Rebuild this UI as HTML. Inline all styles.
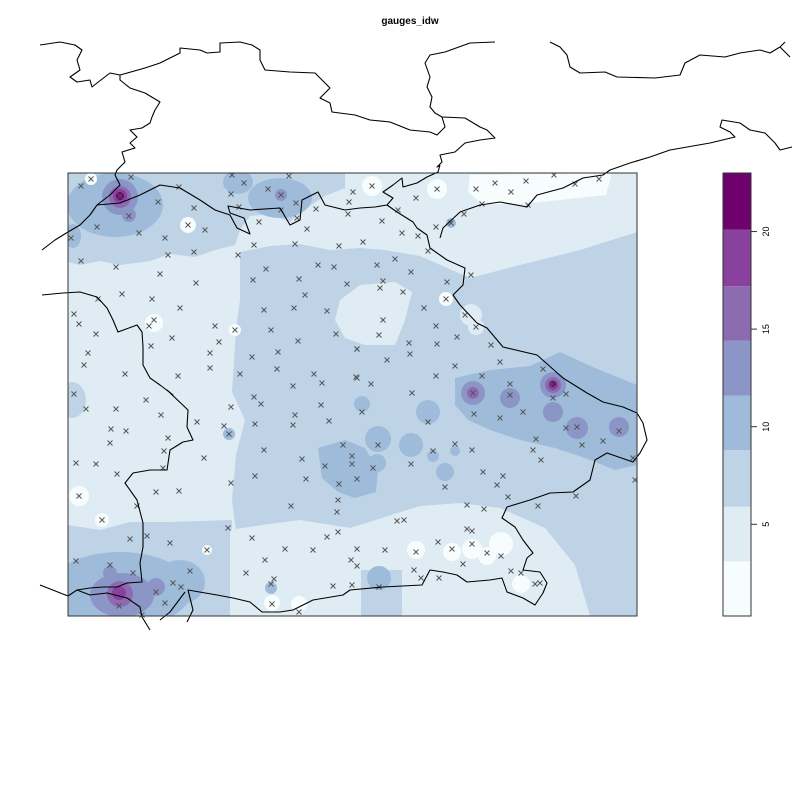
<!DOCTYPE html>
<html><head><meta charset="utf-8"><style>
html,body{margin:0;padding:0;background:#fff;}
svg{display:block;font-family:"Liberation Sans",sans-serif;}
</style></head><body>
<svg id="chart" width="800" height="800" viewBox="0 0 800 800">
<text x="410" y="24" text-anchor="middle" font-size="10" font-weight="bold">gauges_idw</text>
<defs><clipPath id="pc"><rect x="68" y="173" width="569" height="443"/></clipPath></defs>
<g clip-path="url(#pc)">
<rect x="68" y="173" width="569" height="443" fill="#e0ecf4"/>
<!-- medium band regions -->
<path fill="#bfd3e6" d="M68,173 L345,173 L345,188 L325,196 L300,212 L290,222 L270,214 L250,216 L240,230 L235,245 L215,250 L195,257 L170,254 L150,261 L120,265 L100,261 L80,265 L68,262 Z"/>
<path fill="#bfd3e6" d="M240,252 L270,246 L300,244 L330,250 L360,248 L385,250 L420,256 L470,278 L520,265 L580,250 L637,232 L637,616 L590,616 L575,565 L545,528 L500,508 L460,503 L420,506 L385,517 L350,528 L300,520 L262,525 L236,532 L232,500 L236,455 L245,420 L232,392 L236,330 L240,300 Z"/>
<path fill="#e0ecf4" d="M340,300 L360,285 L395,282 L412,292 L405,320 L395,345 L365,345 L345,338 L335,320 Z"/>
<path fill="#bfd3e6" d="M68,525 L100,530 L130,522 L170,522 L232,520 L232,616 L68,616 Z"/>
<path fill="#e0ecf4" d="M230,530 L262,525 L300,522 L350,530 L385,518 L420,508 L460,505 L500,510 L540,530 L570,565 L585,616 L230,616 Z"/>
<rect x="361" y="570" width="41" height="46" fill="#bfd3e6"/>
<ellipse cx="72" cy="400" rx="14" ry="18" fill="#bfd3e6"/>
<!-- darker blobs -->
<ellipse cx="115" cy="205" rx="48" ry="32" fill="#9ebcda"/>
<ellipse cx="280" cy="198" rx="32" ry="20" fill="#9ebcda"/>
<ellipse cx="238" cy="182" rx="15" ry="12" fill="#9ebcda"/>
<ellipse cx="73" cy="236" rx="8" ry="12" fill="#9ebcda"/>
<path fill="#9ebcda" d="M455,378 L490,370 L530,366 L560,352 L595,368 L637,385 L637,465 L615,470 L585,458 L555,448 L520,440 L490,430 L468,420 L455,405 Z"/>
<path fill="#9ebcda" d="M318,448 L345,440 L365,448 L378,470 L376,492 L355,498 L338,492 L322,478 Z"/>
<ellipse cx="120" cy="590" rx="72" ry="38" fill="#9ebcda"/>
<ellipse cx="180" cy="582" rx="25" ry="22" fill="#9ebcda"/>
<g fill="#9ebcda">
<circle cx="362" cy="404" r="8"/><circle cx="428" cy="412" r="12"/><circle cx="378" cy="439" r="13"/><circle cx="411" cy="445" r="12"/><circle cx="377" cy="463" r="9"/><circle cx="433" cy="456" r="6"/><circle cx="455" cy="451" r="5"/><circle cx="445" cy="472" r="9"/><circle cx="379" cy="578" r="12"/><circle cx="229" cy="434" r="6"/><circle cx="271" cy="588" r="6"/><circle cx="451" cy="223" r="5"/>
</g>
<g fill="#8c96c6">
<circle cx="473" cy="393" r="12"/><circle cx="510" cy="398" r="10"/><circle cx="553" cy="385" r="13"/><circle cx="553" cy="412" r="10"/><circle cx="577" cy="428" r="11"/><circle cx="619" cy="427" r="10"/><circle cx="120" cy="197" r="18"/><circle cx="129" cy="215" r="7"/><circle cx="281" cy="195" r="6"/><ellipse cx="122" cy="595" rx="32" ry="22"/><circle cx="156" cy="587" r="9"/><circle cx="110" cy="573" r="7"/>
</g>
<g fill="#8c6bb1"><circle cx="473" cy="393" r="6"/><circle cx="553" cy="385" r="8"/><circle cx="120" cy="197" r="11"/><circle cx="120" cy="594" r="13"/></g>
<g fill="#88419d"><circle cx="553" cy="385" r="5"/><circle cx="120" cy="196" r="7"/><circle cx="119" cy="593" r="7"/></g>
<g fill="#6e016b"><circle cx="553" cy="384" r="3"/><circle cx="120" cy="196" r="4"/></g>
<!-- light/white patches -->
<path fill="#f7fcfd" d="M470,175 L612,173 L606,195 L560,200 L520,204 L482,204 L468,192 Z"/>
<g fill="#f7fcfd">
<circle cx="79" cy="496" r="10"/><circle cx="102" cy="520" r="7"/><circle cx="207" cy="550" r="5"/><circle cx="272" cy="603" r="8"/><circle cx="299" cy="604" r="8"/><circle cx="154" cy="323" r="9"/><circle cx="235" cy="330" r="6"/><circle cx="416" cy="550" r="9"/><circle cx="452" cy="552" r="9"/><circle cx="472" cy="549" r="10"/><circle cx="501" cy="544" r="12"/><circle cx="487" cy="556" r="9"/><circle cx="521" cy="584" r="9"/><circle cx="437" cy="189" r="10"/><circle cx="372" cy="186" r="10"/><circle cx="446" cy="299" r="7"/><circle cx="188" cy="225" r="8"/><circle cx="91" cy="179" r="6"/>
</g>
<g fill="#e0ecf4"><circle cx="471" cy="315" r="11"/><circle cx="476" cy="327" r="8"/><circle cx="397" cy="520" r="7"/></g>
</g>
<g id="gauges"></g>
<path id="borders" fill="none" stroke="#000" stroke-width="1.1" stroke-linejoin="round" d="
M40,45 L60,42 L75,45 L82,50 L77,60 L80,70 L70,77 L77,82 L90,80 L92,87 L97,83 L110,73 L120,75 L145,68 L160,63 L180,53 L180,48 L200,50 L207,53 L220,52 L220,43 L240,42 L252,45 L260,50 L260,60 L265,70 L290,72 L315,73 L325,83 L330,88 L320,98 L330,103 L332,112 L355,115 L370,120 L390,122 L410,130 L430,132 L437,135 L445,127 L442,117
M120,75 L120,80 L130,88 L145,93 L160,102 L155,110 L152,117 L150,123 L142,128 L130,130 L137,137 L130,143 L135,148 L122,152 L125,162 L117,170 L115,175 L120,185 L110,195 L97,205 L90,215 L80,225 L68,232 L55,240 L42,250
M97,205 L120,203 L140,195 L160,185 L180,188 L200,200 L215,210 L230,215 L237,228 L250,234 L244,218 L230,213 L228,206 L250,210 L280,208 L290,225 L300,220 L302,200 L318,192 L325,205 L345,210 L360,208 L375,207 L387,205 L397,212 L413,222 L417,228 L427,235 L430,248 L447,260 L465,268 L463,285 L453,295 L460,305 L477,323 L487,328 L503,347 L537,355 L563,378 L587,393 L603,402 L623,407 L637,413 L643,423 L647,440 L640,453 L633,462 L607,453 L595,460 L590,480 L573,492 L550,493 L530,500 L507,507 L502,518 L515,527 L523,540 L533,553 L527,558 L523,570 L540,572 L547,583 L543,593 L535,605 L523,598 L507,592 L502,578 L490,580 L467,582 L457,575 L443,572 L430,570 L422,585 L383,587 L350,590 L343,595 L313,600 L293,610 L280,612 L262,612 L250,602 L233,598 L217,595 L188,590 L193,610 L187,622
M42,295 L63,293 L80,292 L97,297 L107,308 L113,320 L118,332 L137,325 L142,332 L143,347 L143,365 L150,378 L160,385 L173,395 L167,390 L188,410 L187,427 L193,440 L183,442 L170,450 L167,470 L150,470 L133,473 L125,483 L137,500 L143,523 L143,547 L140,563 L142,582 L127,583 L117,587 L103,587 L90,588 L77,590 L90,595 L107,593 L127,598 L140,607 L142,617 L150,630 M160,620 L170,612 L185,592
M40,585 L68,596 L77,590
M440,165 L438,172 L427,177 L417,183 L403,187 L402,178 L393,185 L383,192 L393,198 L387,205
M442,117 L465,118 L480,127 L487,130 L495,138 L480,140 L465,143 L455,152 L440,155 L442,162 L437,167 L440,165
M495,42 L470,43 L445,52 L430,55 L425,63 L430,77 L427,87 L432,97 L430,107 L435,113 L442,117
M440,238 L443,228 L460,212 L480,205 L500,202 L527,207 L537,195 L563,188 L583,178 L603,175 L610,170 L630,163 L650,157 L670,150 L710,143 L735,137 L730,132 L720,127 L722,120 L740,123 L750,130 L765,133 L775,143 L780,150 L792,147
M550,42 L560,47 L567,55 L570,67 L580,73 L605,72 L617,77 L655,78 L680,75 L685,63 L700,55 L725,57 L740,53 L760,50 L770,53 L780,47 L785,42 M780,47 L790,57
"/>
<rect x="68" y="173" width="569" height="443" fill="none" stroke="#333" stroke-width="1"/>
<g id="legend"></g>
</svg>
<script>
// gauge locations (map easting / northing units)
const gaugeE = [91,81,131,120,179,158,129,97,139,71,194,165,168,194,81,116,160,196,122,152,98,180,74,79,154,149,96,215,235,172,219,151,88,210,252,278,84,210,125,178,240,277,314,322,293,356,357,336,298,271,264,294,327,305,299,253,266,318,334,347,339,295,254,238,307,259,239,231,244,232,268,281,281,296,297,316,289,353,349,348,188,205,74,
372,437,416,398,382,402,418,363,436,451,464,482,476,495,511,526,554,528,575,599,428,395,377,411,383,380,403,447,471,446,424,465,476,383,379,409,436,437,457,491,357,387,410,455,500,357,371,436,482,510,543,552,566,412,473,
86,146,116,161,111,126,110,168,197,231,254,224,255,229,295,293,321,329,264,302,343,325,352,306,357,339,338,337,291,255,231,204,164,163,76,96,117,79,156,179,137,102,228,252,338,327,130,147,170,207,285,313,357,357,265,246,274,271,333,351,76,133,110,190,173,181,156,119,142,165,272,299,261,
362,428,474,500,523,553,510,566,577,619,536,378,411,352,433,455,472,483,445,373,497,503,533,541,582,603,633,635,576,467,484,508,538,404,397,467,472,438,385,416,452,472,501,487,511,414,439,379,352,421,463,521,540,535,521];
const gaugeN = [179,186,177,196,187,202,216,227,233,238,208,238,255,252,261,267,274,283,294,299,299,308,314,324,320,326,334,326,330,338,342,346,353,353,357,352,365,368,374,376,374,369,374,383,386,377,349,334,341,330,310,308,311,295,279,280,269,265,267,284,246,244,245,255,229,222,207,194,183,175,189,195,210,203,218,209,176,192,202,214,225,230,394,
186,189,198,210,221,233,236,242,227,223,214,204,189,183,192,181,175,205,184,179,251,259,265,272,281,288,292,282,275,299,308,315,327,320,335,343,326,344,337,345,349,360,354,366,362,378,384,376,376,384,369,384,394,393,393,
409,400,409,415,429,431,443,438,422,407,397,426,424,434,415,425,405,421,450,459,445,466,464,479,479,484,500,512,506,476,483,458,451,468,463,464,474,496,492,491,506,520,528,538,532,537,539,536,543,550,549,550,549,566,560,573,579,584,586,560,561,573,565,571,583,587,592,606,615,603,604,612,
404,412,422,414,418,412,398,395,428,427,431,439,445,464,456,451,444,450,472,487,468,485,476,450,460,445,441,458,480,496,505,509,497,506,520,521,529,531,542,550,552,549,544,556,553,571,570,578,587,585,578,564,573,583,584];
// legend
const levelBreaks = [0.3,3.1,5.9,8.8,11.6,14.4,17.2,20.1,23.0];
const levelColors = ["#f7fcfd","#e0ecf4","#bfd3e6","#9ebcda","#8c96c6","#8c6bb1","#88419d","#6e016b"];
const legendTicks = [5,10,15,20];
const legendLabels = ["5","10","15","20"];

const NS="http://www.w3.org/2000/svg";
const E0=68,E1=637,N0=173,N1=616; // map extent in map units
function xs(e){return 68+(e-E0)*(569/(E1-E0));}
function ys(n){return 173+(n-N0)*(443/(N1-N0));}
const g=document.getElementById('gauges');
for(let i=0;i<gaugeE.length;i++){
  const cx=xs(gaugeE[i]), cy=ys(gaugeN[i]);
  const p=document.createElementNS(NS,'path');
  p.setAttribute('d',`M${cx-2.5},${cy-2.5}L${cx+2.5},${cy+2.5}M${cx-2.5},${cy+2.5}L${cx+2.5},${cy-2.5}`);
  p.setAttribute('stroke','#555');p.setAttribute('stroke-width','1');
  
  
  g.appendChild(p);
}
function ly(v){return 616-(v-levelBreaks[0])*(443/(levelBreaks[levelBreaks.length-1]-levelBreaks[0]));}
const lg=document.getElementById('legend');
for(let i=0;i<levelColors.length;i++){
  const r=document.createElementNS(NS,'rect');
  const y0=ly(levelBreaks[i+1]), y1=ly(levelBreaks[i]);
  r.setAttribute('x',723);r.setAttribute('y',y0);r.setAttribute('width',28);r.setAttribute('height',y1-y0);
  r.setAttribute('fill',levelColors[i]);
  
  
  lg.appendChild(r);
}
const fr=document.createElementNS(NS,'rect');
fr.setAttribute('x',723);fr.setAttribute('y',173);fr.setAttribute('width',28);fr.setAttribute('height',443);
fr.setAttribute('fill','none');fr.setAttribute('stroke','#333');


lg.appendChild(fr);
for(let i=0;i<legendTicks.length;i++){
  const y=ly(legendTicks[i]);
  const t=document.createElementNS(NS,'line');
  t.setAttribute('x1',751);t.setAttribute('x2',757);t.setAttribute('y1',y);t.setAttribute('y2',y);
  t.setAttribute('stroke','#333');
  
  
  lg.appendChild(t);
  const tx=document.createElementNS(NS,'text');
  tx.setAttribute('x',0);tx.setAttribute('y',0);
  tx.setAttribute('transform',`translate(769,${y}) rotate(-90)`);
  tx.setAttribute('text-anchor','middle');tx.setAttribute('font-size','9');
  tx.textContent=legendLabels[i];
  
  
  lg.appendChild(tx);
}
</script>
</body></html>
